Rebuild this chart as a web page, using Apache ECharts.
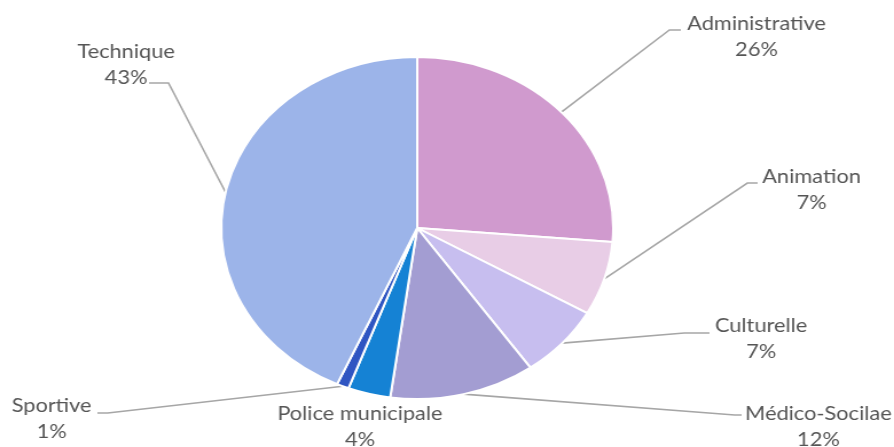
<!DOCTYPE html>
<html>
<head>
<meta charset="utf-8">
<script src="https://cdn.jsdelivr.net/npm/echarts@6/dist/echarts.min.js"></script>
<style>
  html, body { margin: 0; padding: 0; background: #fff; overflow: hidden; }
  /* the reference is stretched horizontally, so the pie is an ellipse */
  #main { width: 780px; height: 447px; transform: scaleX(1.1462); transform-origin: 0 0; }
</style>
</head>
<body>
<div id="main"></div>
<script>
const categories = ["Administrative", "Animation", "Culturelle", "Médico-Socilae", "Police municipale", "Sportive", "Technique"]
// shares; labels show them rounded
const values = [26.3, 7.0, 6.9, 12.0, 3.5, 1.0, 43.3]
const colors = ["#D09ACE", "#E8CDE6", "#C7BEEF", "#A39DD2", "#1582D4", "#2F55C2", "#9CB4E9"]

// where each label sits (unstretched px): text centre, line elbow, line end
const labelPos = {
  "Administrative": { x: 660, y: 37, elbow: [584, 30], end: [594, 30] },
  "Animation": { x: 708, y: 190, elbow: [652, 183], end: [661, 183] },
  "Culturelle": { x: 664, y: 339, elbow: [597, 333], end: [619, 333] },
  "Médico-Socilae": { x: 714, y: 427, elbow: [641, 415], end: [647, 415] },
  "Police municipale": { x: 314, y: 427 },
  "Sportive": { x: 45, y: 419, elbow: [94, 413], end: [85, 413] },
  "Technique": { x: 110, y: 65, elbow: [147, 83], end: [130, 83] },
}

let myChart = echarts.init(document.getElementById("main"))

myChart.setOption({
  animation: false,
  series: [
    {
      type: "pie",
      center: [364, 228],
      radius: 171,
      startAngle: 90,
      clockwise: true,
      itemStyle: {
        borderColor: "#fff",
        borderWidth: 2,
      },
      label: {
        show: true,
        formatter: (p) => p.name + "\n" + Math.round(p.value) + "%",
        color: "#555555",
        fontFamily: "Lato",
        fontSize: 19,
        lineHeight: 26,
        align: "center",
      },
      labelLine: {
        show: true,
        lineStyle: { color: "#A6A6A6", width: 1.6 },
      },
      labelLayout: (params) => {
        const name = categories[params.dataIndex]
        const pos = labelPos[name]
        const out = {
          x: pos.x,
          y: pos.y,
          align: "center",
          verticalAlign: "middle",
        }
        if (pos.elbow && params.labelLinePoints) {
          const start = params.labelLinePoints[0]
          out.labelLinePoints = [start, pos.elbow, pos.end]
        }
        return out
      },
      data: categories.map((name, i) => ({
        name: name,
        value: values[i],
        itemStyle: { color: colors[i] },
        labelLine: { show: name !== "Police municipale" },
      })),
    },
  ],
})

window.addEventListener("resize", () => {
  myChart.resize()
})
</script>
</body>
</html>
